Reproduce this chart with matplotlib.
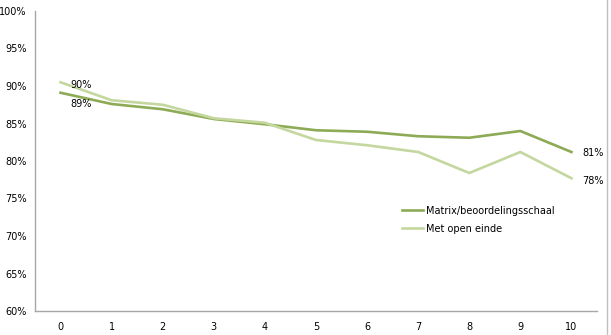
import matplotlib.pyplot as plt
from matplotlib.lines import Line2D
from matplotlib.ticker import FuncFormatter

categories = [0, 1, 2, 3, 4, 5, 6, 7, 8, 9, 10]
matrix = [89.1, 87.6, 86.9, 85.6, 84.9, 84.1, 83.9, 83.3, 83.1, 84.0, 81.2]
open_end = [90.5, 88.1, 87.5, 85.7, 85.1, 82.8, 82.1, 81.2, 78.4, 81.2, 77.7]
series_names = ["Matrix/beoordelingsschaal", "Met open einde"]

DARK = "#8DAA55"
LIGHT = "#C4D79E"


def main():
    fig = plt.figure(figsize=(6.11, 3.35), dpi=100)
    ax = fig.add_axes([35 / 611, 24 / 335, 562 / 611, 300 / 335])

    ax.plot(categories, matrix, color=DARK, lw=1.9, label=series_names[0])
    ax.plot(categories, open_end, color=LIGHT, lw=1.9, label=series_names[1])

    # data labels at the first and last point
    ax.annotate(f"{open_end[0]:.0f}%", (categories[0], open_end[0]), xytext=(7, -2),
                textcoords="offset points", fontsize=7, va="center")
    ax.annotate(f"{matrix[0]:.0f}%", (categories[0], matrix[0]), xytext=(7, -8),
                textcoords="offset points", fontsize=7, va="center")
    ax.annotate(f"{matrix[-1]:.0f}%", (categories[-1], matrix[-1]), xytext=(8, -1),
                textcoords="offset points", fontsize=7, va="center")
    ax.annotate(f"{open_end[-1]:.0f}%", (categories[-1], open_end[-1]), xytext=(8, -2),
                textcoords="offset points", fontsize=7, va="center")

    ax.set_xlim(-0.5, 10.5)
    ax.set_ylim(60, 100)
    ax.set_xticks(categories)
    ax.set_yticks(range(60, 101, 5))
    ax.yaxis.set_major_formatter(FuncFormatter(lambda v, _: f"{v:.0f}%"))
    ax.tick_params(length=0, labelsize=7)
    ax.tick_params(axis="x", pad=8)
    ax.tick_params(axis="y", pad=6)

    for side in ["top", "right"]:
        ax.spines[side].set_visible(False)
    for side in ["left", "bottom"]:
        ax.spines[side].set_color("#A6A6A6")
        ax.spines[side].set_linewidth(1)

    ax.legend(loc="upper left", bbox_to_anchor=(0.637, 0.38), frameon=False,
              fontsize=7, handlelength=2.2, handletextpad=0.3, labelspacing=0.8)

    # chart border on the right
    fig.add_artist(Line2D([607 / 611, 607 / 611], [0, 1], color="#BFBFBF", lw=1))

    fig.savefig("out.png", dpi=100)
    plt.close(fig)


if __name__ == "__main__":
    main()
